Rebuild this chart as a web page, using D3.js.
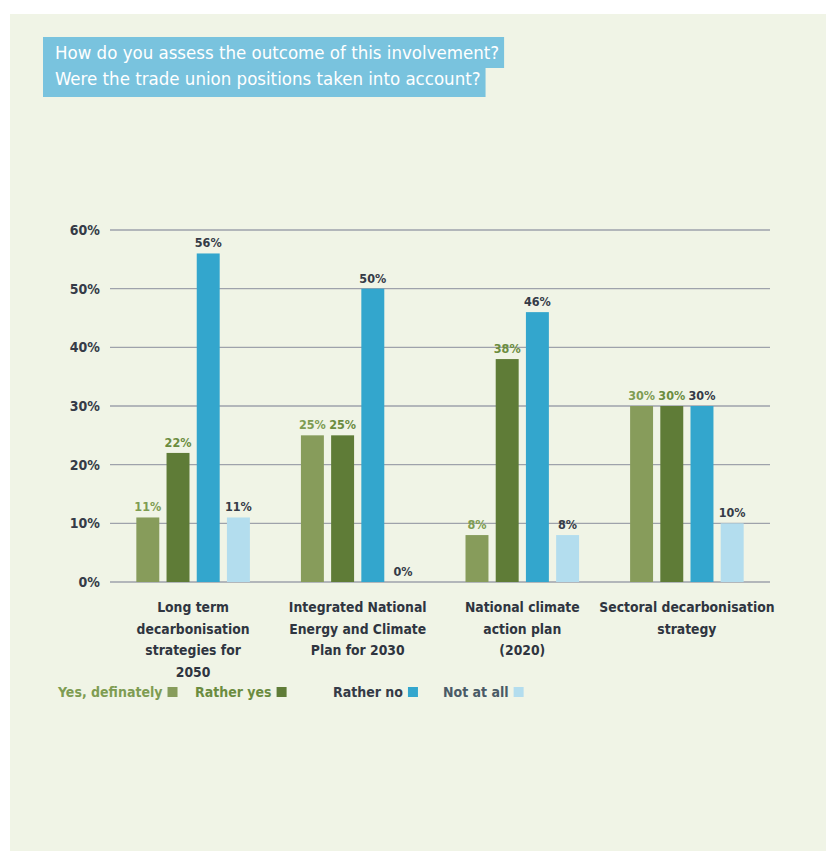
<!DOCTYPE html>
<html>
<head>
<meta charset="utf-8">
<script src="https://cdn.jsdelivr.net/npm/d3@7"></script>
<style>
  body { margin: 0; background: #fff; }
  text { font-family: "DejaVu Sans Condensed", "Liberation Sans Narrow", sans-serif; }
</style>
</head>
<body>
<script>
// chart data
var titleLines = ["How do you assess the outcome of this involvement?",
                  "Were the trade union positions taken into account?"];
var categories = ["Long term decarbonisation strategies for 2050",
                  "Integrated National Energy and Climate Plan for 2030",
                  "National climate action plan (2020)",
                  "Sectoral decarbonisation strategy"];
var categoryLines = [["Long term", "decarbonisation", "strategies for", "2050"],
                     ["Integrated National", "Energy and Climate", "Plan for 2030"],
                     ["National climate", "action plan", "(2020)"],
                     ["Sectoral decarbonisation", "strategy"]];
var series = ["Yes, definately", "Rather yes", "Rather no", "Not at all"];
var yesDefinitely = [11, 25, 8, 30];
var ratherYes     = [22, 25, 38, 30];
var ratherNo      = [56, 50, 46, 30];
var notAtAll      = [11, 0, 8, 10];
var yTicks = [0, 10, 20, 30, 40, 50, 60];

var values = [yesDefinitely, ratherYes, ratherNo, notAtAll];

var width = 826, height = 851;
var barColors   = ["#879c5b", "#5f7c37", "#33a6cd", "#b3ddee"];
var labelColors = ["#7e9c52", "#6b8c3f", "#353b47", "#353b47"];
var legendColors = ["#7e9c52", "#6b8c3f", "#353b47", "#4a5a66"];

var svg = d3.select("body").append("svg")
    .attr("width", width)
    .attr("height", height);

// panel background
svg.append("rect")
    .attr("x", 10).attr("y", 14)
    .attr("width", width - 10).attr("height", height - 14)
    .attr("fill", "#f0f4e6");

// title boxes
var title = svg.append("g");
titleLines.forEach(function(line, i) {
  var t = title.append("text")
      .attr("x", 55)
      .attr("y", 59 + i * 26)
      .attr("fill", "#fff")
      .style("font-size", "18.5px")
      .text(line);
  var w = t.node().getComputedTextLength();
  title.insert("rect", "text")
      .attr("x", 43)
      .attr("y", 37 + i * 30)
      .attr("width", w + 12 + 5)
      .attr("height", i == 0 ? 31 : 30)
      .attr("fill", "#79c3de");
});

var y = d3.scaleLinear().domain([0, 60]).range([582, 230]);

var x0 = d3.scaleBand()
    .domain(categories)
    .range([110, 770])
    .paddingInner(0.31)
    .paddingOuter(0.16);

var x1 = d3.scaleBand()
    .domain(series)
    .range([0, x0.bandwidth()])
    .paddingInner(0.24);

// gridlines
svg.append("g").selectAll("line")
    .data(yTicks)
  .enter().append("line")
    .attr("x1", 110).attr("x2", 770)
    .attr("y1", function(d) { return y(d); })
    .attr("y2", function(d) { return y(d); })
    .attr("stroke", "#9ea2ab")
    .attr("stroke-width", 1.3);

// y tick labels
svg.append("g").selectAll("text")
    .data(yTicks)
  .enter().append("text")
    .attr("x", 100)
    .attr("y", function(d) { return y(d); })
    .attr("dy", "0.35em")
    .attr("text-anchor", "end")
    .attr("fill", "#353b47")
    .style("font-size", "14px")
    .style("font-weight", "bold")
    .text(function(d) { return d + "%"; });

// bars
var group = svg.append("g").selectAll("g")
    .data(categories)
  .enter().append("g")
    .attr("transform", function(d) { return "translate(" + x0(d) + ",0)"; });

function cells(d, ci) {
  return series.map(function(s, si) { return {s: s, si: si, v: values[si][ci]}; });
}

group.selectAll("rect")
    .data(cells)
  .enter().append("rect")
    .attr("x", function(d) { return x1(d.s); })
    .attr("y", function(d) { return y(d.v); })
    .attr("width", x1.bandwidth())
    .attr("height", function(d) { return y(0) - y(d.v); })
    .attr("fill", function(d) { return barColors[d.si]; });

group.selectAll("text.val")
    .data(cells)
  .enter().append("text")
    .attr("class", "val")
    .attr("x", function(d) { return x1(d.s) + x1.bandwidth() / 2; })
    .attr("y", function(d) { return y(d.v) - 6; })
    .attr("text-anchor", "middle")
    .attr("fill", function(d) { return labelColors[d.si]; })
    .style("font-size", "12.5px")
    .style("font-weight", "bold")
    .text(function(d) { return d.v + "%"; });

// category labels
group.each(function(d, ci) {
  var g = d3.select(this);
  categoryLines[ci].forEach(function(line, li) {
    g.append("text")
        .attr("x", x0.bandwidth() / 2)
        .attr("y", 612 + li * 21.5)
        .attr("text-anchor", "middle")
        .attr("fill", "#2f3540")
        .style("font-size", "13.8px")
        .style("font-weight", "bold")
        .text(line);
  });
});

// legend
var legendX = [58, 195, 333, 443];
var legend = svg.append("g").selectAll("g")
    .data(series)
  .enter().append("g")
    .attr("transform", function(d, i) { return "translate(" + legendX[i] + ",697)"; });

legend.append("text")
    .attr("fill", function(d, i) { return legendColors[i]; })
    .style("font-size", "14px")
    .style("font-weight", "bold")
    .text(function(d) { return d; });

legend.append("rect")
    .attr("x", function() { return this.parentNode.querySelector("text").getComputedTextLength() + 5; })
    .attr("y", -10)
    .attr("width", 10)
    .attr("height", 10)
    .attr("fill", function(d, i) { return barColors[i]; });
</script>
</body>
</html>
